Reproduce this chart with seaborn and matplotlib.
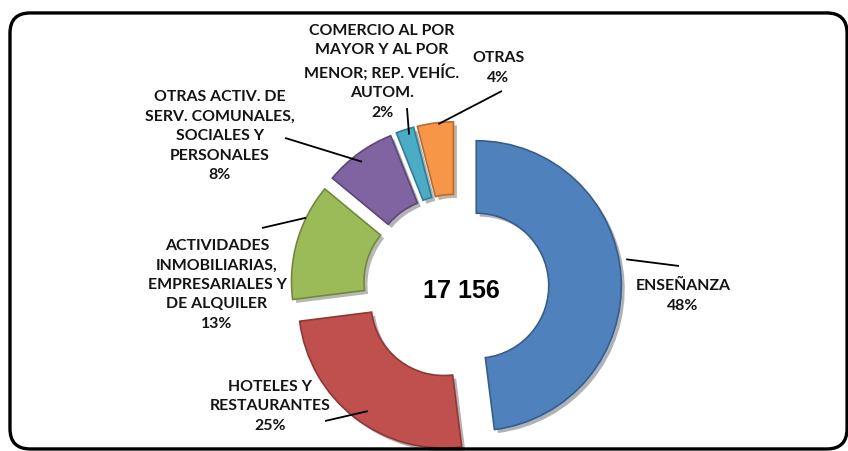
import matplotlib
matplotlib.use("Agg")
import numpy as np
import matplotlib.pyplot as plt
import matplotlib.patheffects as pe
from matplotlib.patches import FancyBboxPatch
import seaborn as sns

# data
sectors = [
    "ENSEÑANZA",
    "HOTELES Y\nRESTAURANTES",
    "ACTIVIDADES\nINMOBILIARIAS,\nEMPRESARIALES Y\nDE ALQUILER",
    "OTRAS ACTIV. DE\nSERV. COMUNALES,\nSOCIALES Y\nPERSONALES",
    "COMERCIO AL POR\nMAYOR Y AL POR\nMENOR; REP. VEHÍC.\nAUTOM.",
    "OTRAS",
]
shares = [48, 25, 13, 8, 2, 4]
total_label = "17 156"

colors = ["#4F81BD", "#C0504D", "#9BBB59", "#8064A2", "#4BACC6", "#F79646"]
edges = ["#385D8A", "#8C3836", "#71893F", "#5C4776", "#357D91", "#B66D31"]

# label layout, in units of the pie radius
# leader start: (fraction along the wedge, clockwise; radius)
label_anchor = [(0.463, 1.05), (0.469, 0.91), (0.71, 1.0),
                (0.465, 0.94), (0.64, 0.96), (0.58, 0.99)]
label_line_end = [(1.538, 0.145), (-0.903, -0.924), (-1.338, 0.407),
                  (-1.179, 1.028), (-0.338, 1.234), (0.317, 1.352)]
label_text_xy = [(1.566, -0.062), (-1.283, -0.821), (-1.648, 0.014),
                 (-1.628, 1.041), (-0.510, 1.483), (0.29, 1.51)]

sns.set_theme(style="white")
plt.rcParams["font.family"] = ["Lato", "DejaVu Sans"]

fig = plt.figure(figsize=(8.48, 4.51), dpi=100)
ax = fig.add_axes([0, 0, 1, 1])

explode = 0.14
wedges, _ = ax.pie(shares, colors=sns.color_palette(colors), startangle=90,
                   counterclock=False, explode=[explode] * len(shares),
                   wedgeprops=dict(width=0.5, linewidth=1.2))
for w, ec in zip(wedges, edges):
    w.set_edgecolor(ec)
    w.set_path_effects([pe.SimplePatchShadow(offset=(2.5, -2.5), alpha=0.35),
                        pe.Normal()])

for w, name, pct, anc, lend, txy in zip(wedges, sectors, shares, label_anchor,
                                        label_line_end, label_text_xy):
    ang = np.deg2rad(w.theta2 - anc[0] * (w.theta2 - w.theta1))
    cx, cy = w.center
    start = (cx + anc[1] * np.cos(ang), cy + anc[1] * np.sin(ang))
    ax.plot([start[0], lend[0]], [start[1], lend[1]], color="black", lw=1.3,
            solid_capstyle="butt")
    ax.text(txy[0], txy[1], "{}\n{}%".format(name, pct), ha="center", va="center",
            fontsize=11.4, fontweight="bold", color="#141414", linespacing=1.5)

ax.text(0.034, -0.028, total_label, ha="center", va="center", fontsize=18,
        fontweight="bold", family="Liberation Sans", color="black")

# rounded frame around the chart (partly cut by the image edge)
frame = FancyBboxPatch((-3.076, -1.117), 5.773, 1.89 + 1.117,
                       boxstyle="round,pad=0,rounding_size=0.14",
                       fill=False, edgecolor="black", linewidth=2.4)
ax.add_patch(frame)

ax.set_xlim(-456 / 145, (848 - 456) / 145)
ax.set_ylim(-(451 - 287) / 145, 287 / 145)
ax.set_aspect("auto")
ax.axis("off")

fig.savefig("out.png", dpi=100)
